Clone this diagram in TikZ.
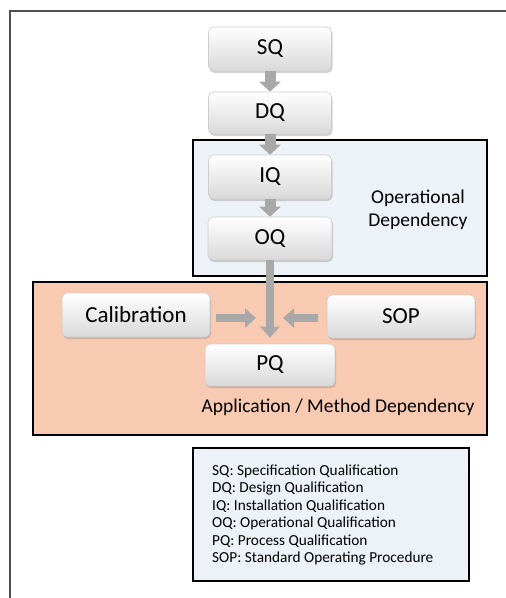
\documentclass[tikz,border=0pt]{standalone}
\usepackage{fontspec}
\setmainfont{Carlito}
\usetikzlibrary{arrows.meta,shadows}

\definecolor{opblue}{HTML}{EDF2F8}
\definecolor{appsalmon}{HTML}{F9CAB2}
\definecolor{arrowgray}{HTML}{A8A8A8}
\definecolor{framegray}{HTML}{505050}

\begin{document}
\begin{tikzpicture}[x=1pt,y=-1pt,
  stepbox/.style={draw=black!20, line width=0.6pt, rounded corners=5pt,
    top color=white, bottom color=black!15,
    drop shadow={shadow xshift=1pt, shadow yshift=-2pt, opacity=0.35},
    minimum height=44pt, inner sep=0pt,
    font=\fontsize{23}{26}\selectfont},
  region/.style={draw=black, line width=1.6pt, inner sep=0pt},
  regionlabel/.style={font=\fontsize{19.5}{22.5}\selectfont, align=center, inner sep=0pt},
  flowarrow/.style={draw=arrowgray, line width=11pt, -{Triangle[width=21pt,length=10pt]}},
  feedarrow/.style={draw=arrowgray, line width=8pt, -{Triangle[width=19pt,length=11pt]}}
]
\useasboundingbox (0,0) rectangle (506,598);

% outer frame (top and left edges)
\draw[framegray, line width=1.5pt] (10,598) -- (10,11) -- (506,11);

% dependency regions
\node[region, fill=opblue, minimum width=294pt, minimum height=136pt] (opreg) at (340,208) {};
\node[region, fill=appsalmon, minimum width=454pt, minimum height=153pt] (appreg) at (260,358.5) {};

\node[regionlabel] (oplabel) at (418,210) {Operational\\Dependency};
\node[regionlabel] (applabel) at (338,407) {Application / Method Dependency};

% qualification stages
\node[stepbox, minimum width=123pt] (SQ) at (270,49) {SQ};
\node[stepbox, minimum width=123pt, minimum height=42pt] (DQ) at (270,113) {DQ};
\node[stepbox, minimum width=123pt] (IQ) at (270,177) {IQ};
\node[stepbox, minimum width=124pt, minimum height=43pt] (OQ) at (270,238.5) {OQ};
\node[stepbox, minimum width=148pt] (Cal) at (136,315) {Calibration};
\node[stepbox, minimum width=148pt, minimum height=43pt] (SOP) at (401,316.5) {SOP};
\node[stepbox, minimum width=130pt, minimum height=42pt] (PQ) at (270,365) {PQ};

% flow arrows
\draw[flowarrow] (SQ.south) -- (DQ.north);
\draw[flowarrow] (DQ.south) -- (IQ.north);
\draw[flowarrow] (IQ.south) -- (OQ.north);

\coordinate (pqin) at ([yshift=6pt]PQ.north);
\coordinate (join) at (270,318);
\draw[feedarrow] (OQ.south) -- (pqin);
\draw[feedarrow] ([xshift=6pt]Cal.east |- join) -- ([xshift=-14pt]join);
\draw[feedarrow] ([xshift=-9pt]SOP.west |- join) -- ([xshift=13pt]join);

% legend
\node[region, fill=opblue, minimum width=276pt, minimum height=133pt] (legend) at (331,514.5) {};
\node[anchor=west, align=left, inner sep=0pt, font=\fontsize{15.3}{17.4}\selectfont] (legendtext) at (212,515)
  {SQ: Specification Qualification\\
   DQ: Design Qualification\\
   IQ: Installation Qualification\\
   OQ: Operational Qualification\\
   PQ: Process Qualification\\
   SOP: Standard Operating Procedure};
\end{tikzpicture}
\end{document}
